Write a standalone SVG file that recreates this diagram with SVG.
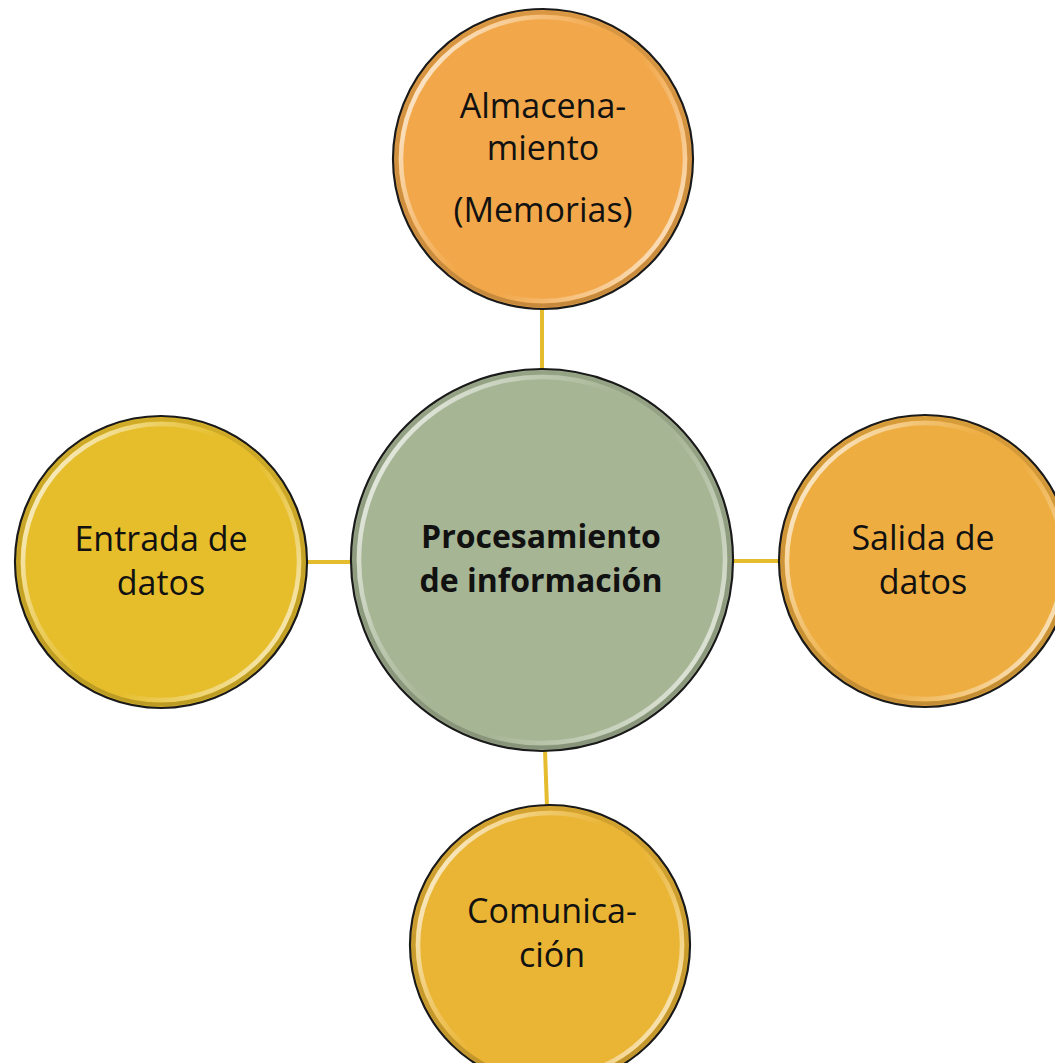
<svg xmlns="http://www.w3.org/2000/svg" width="1055" height="1063" viewBox="0 0 1055 1063">
<style>
.edge{stroke:#1a1a1a;stroke-width:2.2}
.bevel{fill:none;stroke:url(#hl);stroke-width:4.5}
.shade{fill:none;stroke:url(#sh);stroke-width:4}
.lbl{font-family:"Open Sans","Noto Sans",sans-serif;font-size:34px;fill:#111;text-anchor:middle}
.ctr{font-family:"Open Sans","Noto Sans",sans-serif;font-size:32px;font-weight:bold;fill:#111;text-anchor:middle}
.conn{stroke:#E4BC2E;stroke-width:4;fill:none}
</style>
<defs>
<linearGradient id="hl" x1="0" y1="0.2" x2="1" y2="0.8">
<stop offset="0" stop-color="#fff" stop-opacity="0.8"/>
<stop offset="0.25" stop-color="#fff" stop-opacity="0.3"/>
<stop offset="0.45" stop-color="#fff" stop-opacity="0"/>
<stop offset="0.6" stop-color="#fff" stop-opacity="0"/>
<stop offset="0.85" stop-color="#fff" stop-opacity="0.4"/>
<stop offset="1" stop-color="#fff" stop-opacity="0.75"/>
</linearGradient>
<linearGradient id="sh" x1="0" y1="0" x2="0" y2="1">
<stop offset="0" stop-color="#000" stop-opacity="0.1"/>
<stop offset="1" stop-color="#000" stop-opacity="0.18"/>
</linearGradient>
</defs>
<rect width="1055" height="1063" fill="#fff"/>
<g id="connectors">
<line class="conn" x1="542" y1="308" x2="542" y2="371"/>
<line class="conn" x1="305" y1="562" x2="353" y2="562"/>
<line class="conn" x1="731" y1="561" x2="781" y2="561"/>
<line class="conn" x1="545" y1="750" x2="547" y2="807"/>
</g>
<g id="node-almacenamiento">
<circle cx="543" cy="159" r="150" fill="#F2A84A" class="edge"/>
<circle cx="543" cy="159" r="146.5" class="shade"/>
<circle cx="543" cy="159" r="142" class="bevel"/>
<text class="lbl" x="543" y="118">Almacena-</text>
<text class="lbl" x="543" y="160">miento</text>
<text class="lbl" x="543" y="222">(Memorias)</text>
</g>
<g id="node-entrada">
<circle cx="161" cy="562" r="146" fill="#E6BE2C" class="edge"/>
<circle cx="161" cy="562" r="142.5" class="shade"/>
<circle cx="161" cy="562" r="138" class="bevel"/>
<text class="lbl" x="161" y="551">Entrada de</text>
<text class="lbl" x="161" y="595">datos</text>
</g>
<g id="node-salida">
<circle cx="925" cy="561" r="146" fill="#EEAD40" class="edge"/>
<circle cx="925" cy="561" r="142.5" class="shade"/>
<circle cx="925" cy="561" r="138" class="bevel"/>
<text class="lbl" x="923" y="550">Salida de</text>
<text class="lbl" x="923" y="594">datos</text>
</g>
<g id="node-comunicacion">
<circle cx="550" cy="945" r="140" fill="#EAB535" class="edge"/>
<circle cx="550" cy="945" r="136.5" class="shade"/>
<circle cx="550" cy="945" r="132" class="bevel"/>
<text class="lbl" x="552" y="923">Comunica-</text>
<text class="lbl" x="552" y="967">ción</text>
</g>
<g id="node-procesamiento">
<circle cx="542" cy="560" r="191" fill="#A6B594" class="edge"/>
<circle cx="542" cy="560" r="187.5" class="shade"/>
<circle cx="542" cy="560" r="183" class="bevel"/>
<text class="ctr" x="541" y="548">Procesamiento</text>
<text class="ctr" x="541" y="592">de información</text>
</g>
</svg>
